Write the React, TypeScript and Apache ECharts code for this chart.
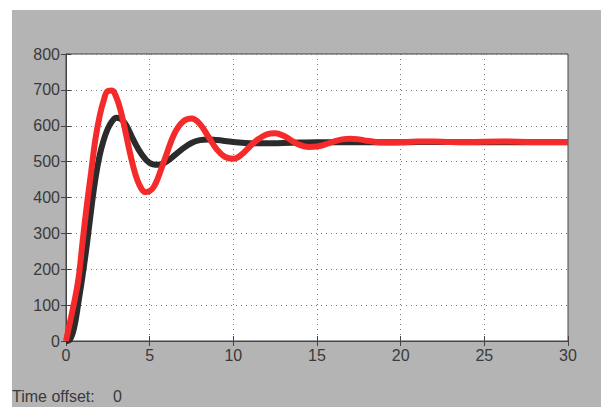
import React, { useEffect, useRef } from "react";
import * as echarts from "echarts";

const blackT = [0, 0.25, 0.5, 0.75, 1.0, 1.25, 1.5, 1.75, 2.0, 2.25, 2.5, 2.75, 3.0, 3.25, 3.5, 3.75, 4.0, 4.5, 5.0, 5.5, 6.0, 6.5, 7.0, 7.5, 8.0, 8.5, 9.0, 10, 11, 12, 13, 14, 15, 16, 18, 20, 22, 24, 26, 28, 30];
const blackV = [0, 5, 40, 110, 185, 270, 365, 450, 515, 560, 592, 612, 622, 620, 608, 588, 563, 522, 496, 491, 500, 518, 537, 552, 560, 562, 560, 555, 551, 551, 552, 553, 554, 554, 554, 554, 555, 554, 554, 554, 554];

const redT = [0, 0.25, 0.5, 0.75, 1.0, 1.25, 1.5, 1.75, 2.0, 2.25, 2.5, 2.75, 3.0, 3.25, 3.5, 3.75, 4.0, 4.25, 4.5, 4.75, 5.0, 5.25, 5.5, 6.0, 6.5, 7.0, 7.5, 8.0, 8.5, 9.0, 9.5, 10.0, 10.5, 11.0, 11.5, 12.0, 12.5, 13.0, 13.5, 14.0, 14.5, 15.0, 15.5, 16.0, 16.5, 17.0, 17.5, 18.0, 18.5, 19, 19.5, 20, 21, 22, 23, 24, 26, 28, 30];
const redV = [0, 55, 110, 175, 280, 380, 470, 560, 625, 670, 697, 698, 680, 645, 595, 540, 490, 450, 425, 415, 418, 430, 455, 520, 580, 612, 620, 605, 570, 535, 513, 508, 520, 543, 563, 576, 579, 572, 558, 546, 541, 542, 548, 556, 562, 564, 562, 558, 555, 553, 553, 554, 556, 556, 555, 555, 556, 555, 555];

const xTicks = [0, 5, 10, 15, 20, 25, 30];
const yTicks = [0, 100, 200, 300, 400, 500, 600, 700, 800];
const offsetLabel = "Time offset:";
const offsetValue = "0";

export default function App() {
  const ref = useRef<HTMLDivElement>(null);
  useEffect(() => {
    if (!ref.current) return;
    const chart = echarts.init(ref.current, null, { renderer: "svg" });
    const font = "Liberation Sans, Arial, sans-serif";
    const grid = { left: 66, top: 54, width: 502, height: 287 };
    const labelStyle = { color: "#3a3a3a", fontSize: 16, fontFamily: font };
    const splitLine = { show: true, lineStyle: { color: "#777", type: [1, 4] as any, width: 1 } };
    chart.setOption({
      animation: false,
      backgroundColor: "#b4b4b4",
      graphic: [
        { type: "rect", left: 0, top: 0, shape: { x: 0, y: 0, width: 601, height: 10 }, style: { fill: "#ffffff" }, silent: true },
        { type: "rect", left: 0, top: 0, shape: { x: 0, y: 0, width: 12, height: 407 }, style: { fill: "#ffffff" }, silent: true },
        { type: "text", left: 12, top: 388, style: { text: offsetLabel, fill: "#3a3a3a", font: `16px ${font}` }, silent: true },
        { type: "text", left: 113, top: 388, style: { text: offsetValue, fill: "#3a3a3a", font: `16px ${font}` }, silent: true },
      ],
      grid: { ...grid, show: true, backgroundColor: "#ffffff", borderColor: "#444", borderWidth: 1 },
      xAxis: [
        {
          type: "value", min: xTicks[0], max: xTicks[xTicks.length - 1], interval: 5,
          axisLine: { show: true, onZero: false, lineStyle: { color: "#444" } },
          axisTick: { show: true, inside: true, length: 5, lineStyle: { color: "#444" } },
          axisLabel: { ...labelStyle, margin: 6 },
          splitLine,
        },
        {
          type: "value", position: "top", min: 0, max: 30, interval: 5,
          axisLine: { show: true, lineStyle: { color: "#444" } },
          axisTick: { show: true, inside: true, length: 5, lineStyle: { color: "#444" } },
          axisLabel: { show: false }, splitLine: { show: false },
        },
      ],
      yAxis: [
        {
          type: "value", min: yTicks[0], max: yTicks[yTicks.length - 1], interval: 100,
          axisLine: { show: true, onZero: false, lineStyle: { color: "#444" } },
          axisTick: { show: true, inside: true, length: 5, lineStyle: { color: "#444" } },
          axisLabel: { ...labelStyle, margin: 6 },
          splitLine,
        },
        {
          type: "value", position: "right", min: 0, max: 800, interval: 100,
          axisLine: { show: true, lineStyle: { color: "#444" } },
          axisTick: { show: true, inside: true, length: 5, lineStyle: { color: "#444" } },
          axisLabel: { show: false }, splitLine: { show: false },
        },
      ],
      series: [
        {
          type: "line", xAxisIndex: 0, yAxisIndex: 0, showSymbol: false, smooth: 0.4,
          data: blackT.map((t, i) => [t, blackV[i]]),
          lineStyle: { color: "#2b2b2b", width: 6 },
        },
        {
          type: "line", xAxisIndex: 0, yAxisIndex: 0, showSymbol: false, smooth: 0.4,
          data: redT.map((t, i) => [t, redV[i]]),
          lineStyle: { color: "#f52a2a", width: 6 },
        },
      ],
    });
    return () => chart.dispose();
  }, []);
  return <div ref={ref} style={{ position: "absolute", left: 0, top: 0, width: 601, height: 407 }} />;
}
